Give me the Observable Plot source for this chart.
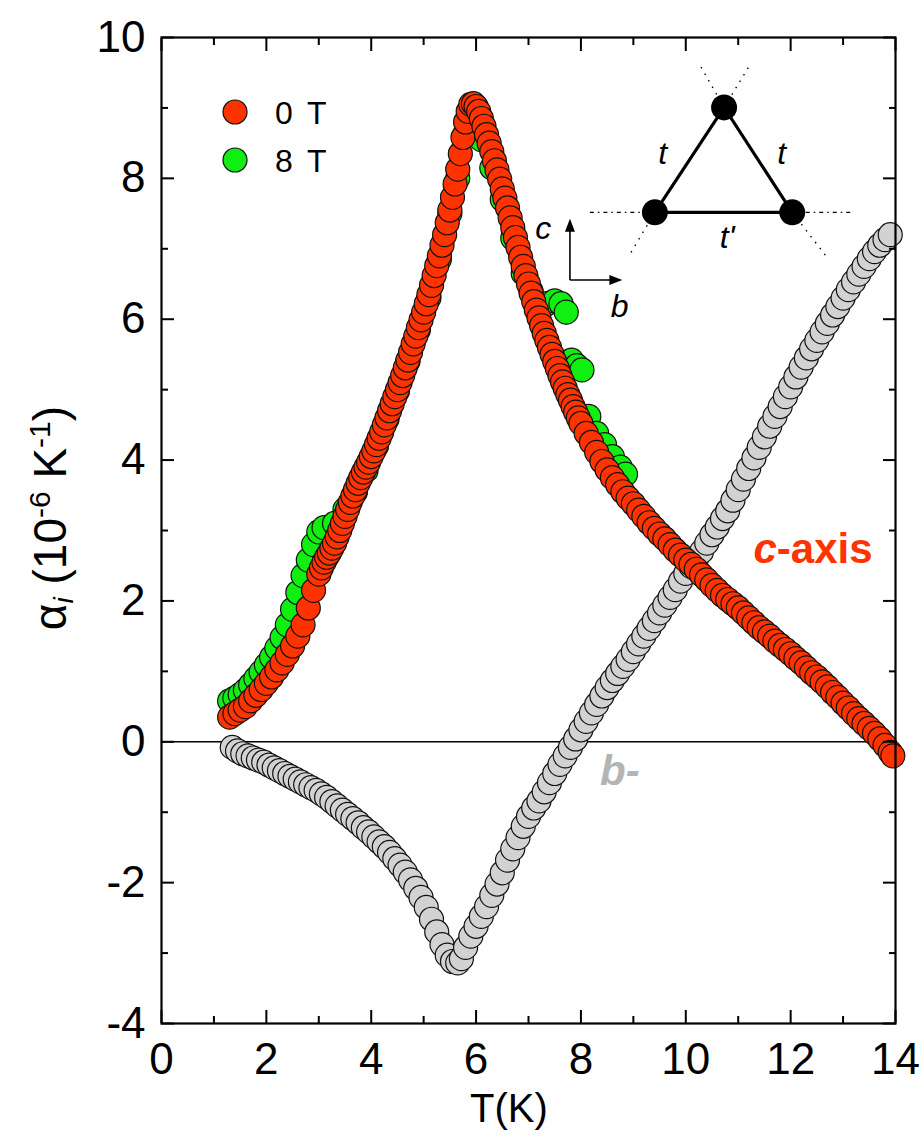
<!DOCTYPE html>
<html><head><meta charset="utf-8">
<script src="https://cdn.jsdelivr.net/npm/d3@7"></script>
<script src="https://cdn.jsdelivr.net/npm/@observablehq/plot@0.6"></script>
<style>
body{margin:0;background:#fff}
svg{font-family:"Liberation Sans",Arial,Helvetica,sans-serif}
</style>
</head><body><div id="chart"></div>
<script>
// c-axis, 0 T
const cT0 = [1.3,1.4,1.5,1.6,1.7,1.8,1.9,2.0,2.1,2.2,2.3,2.4,2.5,2.6,2.7,2.8,2.9,
  3.0,3.05,3.1,3.15,3.2,3.25,3.3,3.35,3.4,3.45,3.5,3.55,3.6,3.65,3.7,3.75,3.8,3.85,3.9,3.95,
  4.0,4.05,4.1,4.15,4.2,4.25,4.3,4.35,4.4,4.45,4.5,4.55,4.6,4.65,4.7,4.75,4.8,4.85,4.9,4.95,
  5.0,5.05,5.1,5.15,5.2,5.25,5.3,5.35,5.4,5.45,5.5,5.55,5.6,5.65,5.7,5.75,5.8,5.85,5.9,5.95,
  6.0,6.05,6.1,6.15,6.2,6.25,6.3,6.35,6.4,6.45,6.5,6.55,6.6,6.65,6.7,6.75,6.8,6.85,6.9,6.95,
  7.0,7.05,7.1,7.15,7.2,7.25,7.3,7.35,7.4,7.45,7.5,7.55,7.6,7.65,7.7,7.75,7.8,7.85,7.9,7.95,
  8.0,8.1,8.2,8.3,8.4,8.5,8.6,8.7,8.8,8.9,9.0,9.1,9.2,9.3,9.4,9.5,9.6,9.7,9.8,9.9,
  10.0,10.1,10.2,10.3,10.4,10.5,10.6,10.7,10.8,10.9,11.0,11.1,11.2,11.3,11.4,11.5,11.6,11.7,11.8,11.9,
  12.0,12.1,12.2,12.3,12.4,12.5,12.6,12.7,12.8,12.9,13.0,13.1,13.2,13.3,13.4,13.5,13.6,13.7,13.8,13.9,13.95];
const cA0 = [0.35,0.40,0.45,0.50,0.58,0.66,0.74,0.83,0.92,1.02,1.12,1.24,1.36,1.50,1.66,1.90,2.15,
  2.38,2.47,2.55,2.62,2.68,2.75,2.82,2.91,3.00,3.10,3.20,3.30,3.40,3.49,3.58,3.67,3.75,3.83,3.90,3.97,
  4.05,4.13,4.22,4.31,4.40,4.50,4.60,4.70,4.80,4.90,5.00,5.10,5.20,5.31,5.42,5.53,5.65,5.76,5.88,5.99,
  6.10,6.22,6.35,6.48,6.62,6.76,6.90,7.05,7.20,7.37,7.55,7.73,7.92,8.13,8.35,8.58,8.80,8.95,9.05,9.06,
  9.02,8.95,8.85,8.74,8.62,8.50,8.38,8.25,8.12,7.99,7.85,7.72,7.58,7.44,7.30,7.16,7.02,6.88,6.75,6.62,
  6.50,6.37,6.25,6.13,6.02,5.91,5.80,5.70,5.60,5.50,5.40,5.30,5.20,5.11,5.02,4.93,4.85,4.76,4.68,4.60,
  4.52,4.38,4.25,4.11,3.98,3.86,3.75,3.65,3.55,3.46,3.38,3.29,3.20,3.11,3.03,2.95,2.88,2.80,2.72,2.65,
  2.58,2.52,2.45,2.37,2.30,2.22,2.15,2.08,2.02,1.96,1.90,1.83,1.76,1.69,1.62,1.56,1.50,1.43,1.37,1.31,
  1.25,1.18,1.12,1.05,0.98,0.92,0.85,0.78,0.70,0.63,0.55,0.48,0.40,0.33,0.26,0.19,0.12,0.04,-0.05,-0.15,-0.20];
// c-axis, 8 T
const cT8 = [1.3,1.4,1.5,1.6,1.7,1.8,1.9,2.0,2.1,2.2,2.3,2.4,2.5,2.6,2.7,2.8,2.9,3.0,3.1,3.3,3.5,3.7,3.9,4.1,4.3,4.5,4.7,4.9,5.1,5.3,5.5,5.65,5.8,5.95,6.1,6.3,6.5,6.7,6.9,7.05,7.2,7.35,7.5,7.62,7.72,7.82,7.92,8.02,8.15,8.3,8.45,8.6,8.75,8.85];
const cA8 = [0.58,0.62,0.67,0.73,0.81,0.90,0.99,1.09,1.20,1.33,1.48,1.66,1.88,2.12,2.36,2.58,2.80,2.98,3.04,3.10,3.30,3.55,3.85,4.20,4.58,4.98,5.40,5.85,6.30,6.85,7.50,8.00,8.65,8.72,8.55,8.15,7.70,7.15,6.65,6.40,6.18,6.22,6.26,6.22,6.10,5.42,5.34,5.28,4.62,4.38,4.22,4.05,3.90,3.80];
// b-axis, 0 T
const bT = [1.35,1.45,1.55,1.65,1.75,1.85,1.95,2.05,2.15,2.25,2.35,2.45,2.55,2.65,2.75,2.85,2.95,3.05,3.15,3.25,3.35,3.45,3.55,3.65,3.75,3.85,3.95,4.05,4.15,4.25,4.35,4.45,4.55,4.65,4.75,4.85,4.95,5.05,5.15,5.25,5.35,5.45,5.55,5.65,5.72,5.8,5.9,6.0,6.1,6.2,6.3,6.4,6.5,6.6,6.7,6.8,6.9,7.0,7.1,7.2,7.3,7.4,7.5,7.6,7.7,7.8,7.9,8.0,8.1,8.2,8.3,8.4,8.5,8.6,8.7,8.8,8.9,9.0,9.1,9.2,9.3,9.4,9.5,9.6,9.7,9.8,9.9,10.0,10.1,10.2,10.3,10.4,10.5,10.6,10.7,10.8,10.9,11.0,11.1,11.2,11.3,11.4,11.5,11.6,11.7,11.8,11.9,12.0,12.1,12.2,12.3,12.4,12.5,12.6,12.7,12.8,12.9,13.0,13.1,13.2,13.3,13.4,13.5,13.6,13.7,13.8,13.9];
const bA = [-0.08,-0.13,-0.17,-0.20,-0.23,-0.26,-0.29,-0.33,-0.37,-0.41,-0.45,-0.49,-0.53,-0.57,-0.61,-0.65,-0.69,-0.74,-0.79,-0.85,-0.91,-0.97,-1.03,-1.09,-1.15,-1.22,-1.28,-1.35,-1.42,-1.49,-1.57,-1.66,-1.75,-1.85,-1.96,-2.08,-2.21,-2.35,-2.52,-2.70,-2.88,-3.03,-3.12,-3.14,-3.08,-2.92,-2.76,-2.62,-2.48,-2.34,-2.18,-2.02,-1.86,-1.68,-1.52,-1.36,-1.20,-1.06,-0.94,-0.84,-0.71,-0.58,-0.45,-0.32,-0.20,-0.08,0.04,0.17,0.29,0.41,0.53,0.65,0.77,0.87,0.97,1.07,1.17,1.28,1.39,1.50,1.61,1.72,1.83,1.94,2.05,2.16,2.28,2.39,2.49,2.59,2.70,2.82,2.94,3.05,3.17,3.28,3.43,3.58,3.73,3.88,4.03,4.18,4.33,4.48,4.62,4.76,4.90,5.04,5.18,5.32,5.45,5.58,5.70,5.82,5.94,6.06,6.18,6.30,6.42,6.53,6.64,6.75,6.86,6.96,7.05,7.13,7.20];

const xMajor = [0,2,4,6,8,10,12,14];
const xMinor = [1,3,5,7,9,11,13];
const yMajor = [-4,-2,0,2,4,6,8,10];
const yMinor = [-3,-1,1,3,5,7,9];
const legendLabels = ["0 T","8 T"];
const colRed = "#ff3300", colGreen = "#11ee11", colGray = "#d2d2d2";

const zip = (T, A) => T.map((t, i) => ({T: t, A: A[i]}));
const red = zip(cT0, cA0), green = zip(cT8, cA8), gray = zip(bT, bA);

const blank = () => "";
const num = d => String(d);
const plot = Plot.plot({
  width: 924, height: 1141,
  marginLeft: 161, marginRight: 29, marginTop: 37, marginBottom: 118,
  x: {domain: [0, 14]},
  y: {domain: [-4, 10]},
  style: {fontFamily: '"Liberation Sans",Arial,sans-serif', fontSize: "44px", color: "#000", background: "#fff"},
  marks: [
    Plot.ruleY([0], {stroke: "#000", strokeWidth: 1.6}),
    Plot.dot(gray, {x: "T", y: "A", r: 12, fill: colGray, stroke: "#111", strokeWidth: 1.2}),
    Plot.dot(green, {x: "T", y: "A", r: 12, fill: colGreen, stroke: "#111", strokeWidth: 1.2}),
    Plot.dot(red, {x: "T", y: "A", r: 12, fill: colRed, stroke: "#111", strokeWidth: 1.2}),
    // tick labels
    Plot.axisX({anchor: "bottom", ticks: xMajor, tickSize: 0, tickPadding: 19, tickFormat: num, label: null, fontSize: 44}),
    Plot.axisY({anchor: "left", ticks: yMajor, tickSize: 0, tickPadding: 16, tickFormat: num, label: null, fontSize: 44}),
    // inward ticks on all four sides
    Plot.axisX({anchor: "bottom", ticks: xMajor, tickSize: -13, tickFormat: blank, label: null, strokeWidth: 2}),
    Plot.axisX({anchor: "bottom", ticks: xMinor, tickSize: -7, tickFormat: blank, label: null, strokeWidth: 2}),
    Plot.axisX({anchor: "top", ticks: xMajor, tickSize: -13, tickFormat: blank, label: null, strokeWidth: 2}),
    Plot.axisX({anchor: "top", ticks: xMinor, tickSize: -7, tickFormat: blank, label: null, strokeWidth: 2}),
    Plot.axisY({anchor: "left", ticks: yMajor, tickSize: -13, tickFormat: blank, label: null, strokeWidth: 2}),
    Plot.axisY({anchor: "left", ticks: yMinor, tickSize: -7, tickFormat: blank, label: null, strokeWidth: 2}),
    Plot.axisY({anchor: "right", ticks: yMajor, tickSize: -13, tickFormat: blank, label: null, strokeWidth: 2}),
    Plot.axisY({anchor: "right", ticks: yMinor, tickSize: -7, tickFormat: blank, label: null, strokeWidth: 2}),
    Plot.frame({stroke: "#000", strokeWidth: 2.2})
  ]
});
document.getElementById("chart").appendChild(plot);

// annotations, legend, inset
const sx = plot.scale("x").apply, sy = plot.scale("y").apply;
const svg = d3.select(plot);
const g = svg.append("g").attr("fill", "#000").attr("text-anchor", "start");

// axis titles
g.append("text").attr("x", 509).attr("y", 1122).attr("text-anchor", "middle")
  .attr("font-size", 40).text("T(K)");
const yl = g.append("text").attr("transform", "translate(66,518) rotate(-90)")
  .attr("text-anchor", "middle").attr("font-size", 46);
yl.append("tspan").text("α");
yl.append("tspan").attr("font-size", 28).attr("font-style", "italic").attr("baseline-shift", "-25%").text("i");
yl.append("tspan").text(" (10");
yl.append("tspan").attr("font-size", 30).attr("baseline-shift", "55%").text("-6");
yl.append("tspan").text(" K");
yl.append("tspan").attr("font-size", 30).attr("baseline-shift", "55%").text("-1");
yl.append("tspan").text(")");

// legend
[colRed, colGreen].forEach((c, i) => {
  g.append("circle").attr("cx", 235).attr("cy", 112 + i * 48).attr("r", 12)
    .attr("fill", c).attr("stroke", "#111").attr("stroke-width", 1.2);
  g.append("text").attr("x", 275).attr("y", 112 + i * 48).attr("dy", "0.36em")
    .attr("font-size", 32).attr("word-spacing", 6).text(legendLabels[i]);
});

// series labels
const ct = g.append("text").attr("x", 813).attr("y", 563).attr("text-anchor", "middle")
  .attr("font-size", 42).attr("font-weight", "bold").attr("fill", colRed);
ct.append("tspan").attr("font-style", "italic").text("c");
ct.append("tspan").text("-axis");
g.append("text").attr("x", 600).attr("y", 785).attr("font-size", 42)
  .attr("font-weight", "bold").attr("font-style", "italic").attr("fill", "#b4b4b4").text("b-");

// inset: triangular lattice
const vTop = [sx(10.74), sy(9.0)], vL = [sx(9.42), sy(7.51)], vR = [sx(12.04), sy(7.51)];
const dotted = (a, b, dash) => g.append("line").attr("x1", a[0]).attr("y1", a[1]).attr("x2", b[0]).attr("y2", b[1])
  .attr("stroke", "#000").attr("stroke-width", 1.4).attr("stroke-dasharray", dash);
dotted([sx(8.18), vL[1]], vL, "4,4,1.5,4");
dotted(vR, [sx(13.2), vR[1]], "4,4,1.5,4");
dotted(vTop, [sx(10.28), sy(9.6)], "1.5,6");
dotted(vTop, [sx(11.23), sy(9.6)], "1.5,6");
dotted(vL, [sx(8.91), sy(6.875)], "1.5,6");
dotted(vR, [sx(12.70), sy(6.875)], "1.5,6");
g.append("path").attr("d", `M${vL}L${vTop}L${vR}Z`).attr("fill", "none").attr("stroke", "#000").attr("stroke-width", 3.2);
[vTop, vL, vR].forEach(v => g.append("circle").attr("cx", v[0]).attr("cy", v[1]).attr("r", 13).attr("fill", "#000"));
const it = (x, y, s) => g.append("text").attr("x", sx(x)).attr("y", sy(y)).attr("text-anchor", "middle")
  .attr("dy", "0.35em").attr("font-size", 32).attr("font-style", "italic").text(s);
it(9.57, 8.35, "t"); it(11.84, 8.35, "t"); it(10.8, 7.16, "t'");
it(7.29, 7.29, "c"); it(8.75, 6.19, "b");
// axes arrows
const o = [sx(7.80), sy(6.55)];
g.append("line").attr("x1", o[0]).attr("y1", o[1]).attr("x2", o[0]).attr("y2", sy(7.25)).attr("stroke", "#000").attr("stroke-width", 1.6);
g.append("line").attr("x1", o[0]).attr("y1", o[1]).attr("x2", sx(8.6)).attr("y2", o[1]).attr("stroke", "#000").attr("stroke-width", 1.6);
g.append("path").attr("d", `M${o[0]},${sy(7.42)}l-5,13h10z`);
g.append("path").attr("d", `M${sx(8.8)},${o[1]}l-13,-5v10z`);
</script>
</body></html>
